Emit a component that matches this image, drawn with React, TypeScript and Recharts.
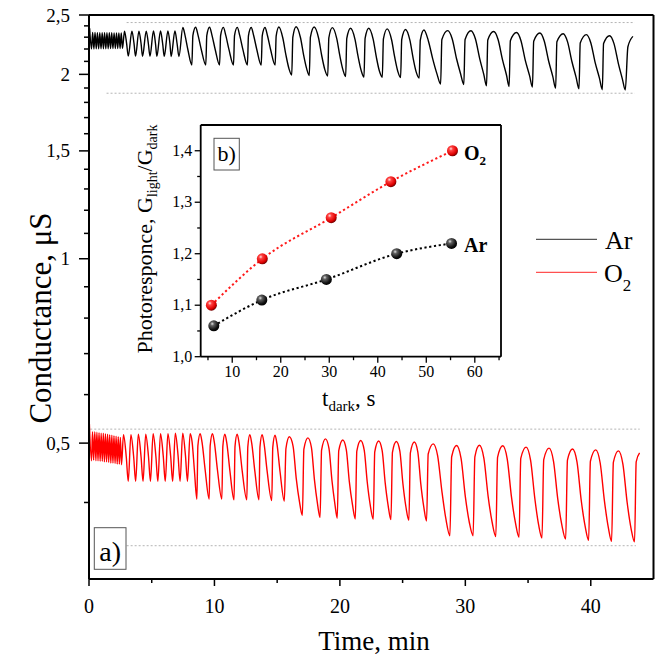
import React from 'react';
import { LineChart, Line, XAxis, YAxis, ReferenceLine } from 'recharts';

const FONT = '"Liberation Serif", "Times New Roman", Times, serif';

// ---------- main panel (a) : conductance vs time (min), log y ----------
const arPoints: [number, number][] = [
  [0.05, 2.378], [0.2, 2.2], [0.29, 2.341], [0.39, 2.2], [0.48, 2.341], [0.58, 2.201], [0.67, 2.34], [0.77, 2.201],
  [0.86, 2.34], [0.96, 2.201], [1.05, 2.34], [1.15, 2.202], [1.24, 2.339], [1.34, 2.202], [1.43, 2.339], [1.53, 2.202],
  [1.62, 2.338], [1.72, 2.203], [1.81, 2.338], [1.91, 2.203], [2.0, 2.337], [2.1, 2.203], [2.19, 2.337], [2.29, 2.204],
  [2.38, 2.336], [2.48, 2.204], [2.57, 2.336], [2.67, 2.205],
  [2.83, 2.352], [3.0, 2.245], [3.13, 2.142], [3.42, 2.352], [3.59, 2.245], [3.71, 2.142], [3.98, 2.353], [4.15, 2.246],
  [4.27, 2.141], [4.56, 2.353], [4.73, 2.246], [4.86, 2.141], [5.14, 2.354], [5.3, 2.246], [5.41, 2.14], [5.7, 2.354],
  [5.87, 2.246], [6.0, 2.14], [6.29, 2.355], [6.45, 2.246], [6.55, 2.139], [6.85, 2.355], [7.02, 2.246], [7.17, 2.139],
  [7.48, 2.385], [7.66, 2.314], [7.88, 2.196], [8.2, 2.072], [8.28, 2.314], [8.5, 2.388], [8.7, 2.314], [8.95, 2.196],
  [9.31, 2.072], [9.39, 2.314], [9.61, 2.388], [9.81, 2.314], [10.06, 2.196], [10.41, 2.072], [10.49, 2.313], [10.71, 2.386],
  [10.91, 2.313], [11.16, 2.195], [11.52, 2.072], [11.6, 2.313], [11.82, 2.386], [12.02, 2.313], [12.27, 2.195], [12.63, 2.072],
  [12.71, 2.312], [12.93, 2.385], [13.13, 2.312], [13.38, 2.194], [13.73, 2.071], [13.81, 2.312], [14.03, 2.385], [14.23, 2.312],
  [14.48, 2.194], [14.84, 2.071],
  [14.92, 2.31], [15.14, 2.39], [15.45, 2.293], [15.7, 2.15], [15.95, 2.04], [16.16, 1.995],
  [16.25, 2.3], [16.51, 2.392], [16.86, 2.295], [17.11, 2.15], [17.36, 2.04], [17.56, 1.991],
  [17.65, 2.3], [17.95, 2.39], [18.3, 2.293], [18.55, 2.147], [18.8, 2.036], [19.03, 1.988],
  [19.12, 2.295], [19.4, 2.384], [19.75, 2.288], [20.0, 2.143], [20.25, 2.032], [20.46, 1.984],
  [20.55, 2.29], [20.85, 2.379], [21.2, 2.284], [21.45, 2.139], [21.7, 2.028], [21.92, 1.98],
  [22.01, 2.29], [22.3, 2.379], [22.65, 2.283], [22.9, 2.137], [23.15, 2.025], [23.38, 1.978],
  [23.47, 2.285], [23.77, 2.373], [24.12, 2.278], [24.37, 2.133], [24.62, 2.022], [24.84, 1.976],
  [24.93, 2.28], [25.23, 2.368], [25.58, 2.274], [25.83, 2.13], [26.08, 2.019], [26.32, 1.972],
  [26.41, 2.275], [26.7, 2.363], [27.05, 2.27], [27.4, 2.12], [27.75, 2.0], [28.03, 1.928],
  [28.13, 2.28], [28.6, 2.357], [28.95, 2.287], [29.3, 2.121], [29.62, 2.005], [29.88, 1.925],
  [29.98, 2.28], [30.45, 2.356], [30.8, 2.286], [31.15, 2.12], [31.47, 2.0], [31.69, 1.915],
  [31.79, 2.275], [32.26, 2.349], [32.61, 2.28], [32.96, 2.114], [33.28, 1.995], [33.49, 1.911],
  [33.59, 2.27], [34.08, 2.341], [34.43, 2.272], [34.78, 2.108], [35.12, 1.99], [35.35, 1.906],
  [35.45, 2.265], [35.94, 2.336], [36.29, 2.267], [36.64, 2.103], [36.97, 1.985], [37.2, 1.899],
  [37.3, 2.26], [37.8, 2.33], [38.15, 2.26], [38.5, 2.097], [38.83, 1.978], [39.06, 1.894],
  [39.16, 2.25], [39.65, 2.322], [40.0, 2.253], [40.35, 2.09], [40.69, 1.972], [40.92, 1.888],
  [41.02, 2.245], [41.5, 2.313], [41.85, 2.245], [42.2, 2.083], [42.52, 1.965], [42.75, 1.886],
  [42.96, 2.219], [43.36, 2.307],
];

const o2Points: [number, number][] = [
  [0.03, 0.537], [0.2, 0.468], [0.28, 0.522], [0.37, 0.469], [0.46, 0.522], [0.55, 0.468], [0.63, 0.521], [0.72, 0.468],
  [0.8, 0.52], [0.89, 0.467], [0.97, 0.519], [1.06, 0.467], [1.14, 0.519], [1.23, 0.466], [1.31, 0.518], [1.4, 0.466],
  [1.48, 0.517], [1.57, 0.465], [1.65, 0.516], [1.74, 0.464], [1.82, 0.515], [1.91, 0.464], [1.99, 0.514], [2.08, 0.463],
  [2.16, 0.513], [2.25, 0.462], [2.33, 0.512], [2.42, 0.462], [2.5, 0.511], [2.59, 0.461],
  [2.75, 0.516], [2.97, 0.475], [3.13, 0.433], [3.34, 0.516], [3.56, 0.475], [3.72, 0.433], [3.93, 0.517], [4.15, 0.475],
  [4.31, 0.433], [4.52, 0.517], [4.74, 0.476], [4.9, 0.433], [5.11, 0.518], [5.33, 0.476], [5.49, 0.433], [5.7, 0.518],
  [5.92, 0.476], [6.08, 0.433], [6.29, 0.518], [6.51, 0.476], [6.67, 0.433], [6.88, 0.519], [7.1, 0.477], [7.26, 0.433],
  [7.47, 0.519], [7.69, 0.477], [7.85, 0.433],
  [8.06, 0.518], [8.22, 0.502], [8.4, 0.452], [8.6, 0.405],
  [8.68, 0.495], [8.86, 0.518], [9.01, 0.502], [9.26, 0.452], [9.58, 0.405],
  [9.66, 0.495], [9.84, 0.518], [9.99, 0.502], [10.24, 0.452], [10.59, 0.405],
  [10.67, 0.494], [10.83, 0.517], [10.98, 0.501], [11.23, 0.451], [11.56, 0.404],
  [11.64, 0.494], [11.81, 0.517], [11.96, 0.501], [12.21, 0.451], [12.58, 0.404],
  [12.66, 0.493], [12.82, 0.516], [12.97, 0.5], [13.22, 0.45], [13.55, 0.404],
  [13.63, 0.493], [13.8, 0.516], [13.95, 0.5], [14.2, 0.45], [14.57, 0.403],
  [14.65, 0.492], [14.83, 0.515], [14.98, 0.499], [15.23, 0.449], [15.57, 0.402],
  [15.7, 0.49], [15.97, 0.512], [16.27, 0.494], [16.52, 0.438], [16.78, 0.401], [17.01, 0.381],
  [17.13, 0.489], [17.45, 0.51], [17.73, 0.492], [17.97, 0.436], [18.2, 0.4], [18.42, 0.378],
  [18.54, 0.487], [18.85, 0.508], [19.13, 0.49], [19.37, 0.434], [19.6, 0.398], [19.79, 0.377],
  [19.91, 0.486], [20.23, 0.506], [20.51, 0.488], [20.75, 0.433], [21.0, 0.397], [21.23, 0.376],
  [21.35, 0.485], [21.66, 0.505], [21.94, 0.487], [22.18, 0.432], [22.42, 0.396], [22.66, 0.3755],
  [22.78, 0.484], [23.09, 0.504], [23.37, 0.486], [23.61, 0.431], [23.85, 0.395], [24.07, 0.375],
  [24.19, 0.483], [24.5, 0.503], [24.78, 0.485], [25.02, 0.43], [25.26, 0.394], [25.5, 0.374],
  [25.62, 0.482], [25.93, 0.502], [26.21, 0.484], [26.45, 0.429], [26.69, 0.393], [26.91, 0.373],
  [27.04, 0.48], [27.44, 0.4986], [27.79, 0.477], [28.14, 0.416], [28.44, 0.377], [28.77, 0.353],
  [28.91, 0.475], [29.3, 0.4955], [29.66, 0.472], [30.0, 0.409], [30.32, 0.371], [30.62, 0.353],
  [30.76, 0.475], [31.12, 0.496], [31.48, 0.472], [31.82, 0.409], [32.14, 0.371], [32.43, 0.352],
  [32.57, 0.474], [32.98, 0.495], [33.34, 0.471], [33.68, 0.408], [34.0, 0.37], [34.28, 0.351],
  [34.42, 0.472], [34.84, 0.4925], [35.2, 0.469], [35.54, 0.406], [35.84, 0.368], [36.11, 0.35],
  [36.25, 0.47], [36.67, 0.4906], [37.03, 0.467], [37.37, 0.405], [37.7, 0.367], [38.0, 0.3485],
  [38.14, 0.469], [38.54, 0.489], [38.9, 0.466], [39.24, 0.403], [39.56, 0.365], [39.83, 0.347],
  [39.97, 0.467], [40.39, 0.4875], [40.75, 0.464], [41.09, 0.402], [41.4, 0.364], [41.66, 0.3457],
  [41.8, 0.465], [42.2, 0.4857], [42.56, 0.462], [42.9, 0.4], [43.22, 0.362], [43.49, 0.345],
  [43.62, 0.466], [43.89, 0.482],
];

// gray dotted guide lines: level, start time, end time
const guideLevels = [2.43, 1.863, 0.527, 0.34];
const guideStarts = [3.0, 1.4, 0.1, 3.0];
const guideEnds = [43.5, 43.5, 43.9, 43.6];

const mainXTicks = [0, 5, 10, 15, 20, 25, 30, 35, 40];
const mainXMajor = [0, 10, 20, 30, 40];
const mainYTicks = [0.4, 0.5, 0.6, 0.7, 0.8, 0.9, 1, 1.1, 1.2, 1.3, 1.4, 1.5, 1.6, 1.7, 1.8, 1.9, 2, 2.1, 2.2, 2.3, 2.4, 2.5];
const mainYMajor = [0.5, 1, 1.5, 2, 2.5];

// ---------- inset (b) : photoresponse vs dark time ----------
const insetO2Dark = [5.7, 16.2, 30.4, 42.7, 55.4];
const insetO2Resp = [1.1, 1.19, 1.27, 1.34, 1.4];
const insetArDark = [6.2, 16.1, 29.4, 43.9, 55.2];
const insetArResp = [1.06, 1.11, 1.15, 1.2, 1.22];
const insetXTicks = [5, 10, 15, 20, 25, 30, 35, 40, 45, 50, 55, 60, 65];
const insetXMajor = [10, 20, 30, 40, 50, 60];
const insetYTicks = [1.0, 1.05, 1.1, 1.15, 1.2, 1.25, 1.3, 1.35, 1.4];
const insetYMajor = [1.0, 1.1, 1.2, 1.3, 1.4];

const arData = arPoints.map(([t, v]) => ({ t, v }));
const o2Data = o2Points.map(([t, v]) => ({ t, v }));
const insetO2 = insetO2Dark.map((x, i) => ({ x, y: insetO2Resp[i] }));
const insetAr = insetArDark.map((x, i) => ({ x, y: insetArResp[i] }));

const isIn = (arr: number[], v: number) => arr.some((m) => Math.abs(m - v) < 1e-6);
const comma = (v: number) => String(v).replace('.', ',');

const MainYTick = (props: any) => {
  const { x, y, payload } = props;
  const v = payload.value;
  const major = isIn(mainYMajor, v);
  const len = major ? 10 : 5;
  return (
    <g>
      <line x1={x - len} x2={x} y1={y} y2={y} stroke="#000" strokeWidth={1.5} />
      {major && (
        <text x={x - 19} y={y + 6.5} textAnchor="end" fontSize={19} fontFamily={FONT} fill="#000">
          {comma(v)}
        </text>
      )}
    </g>
  );
};

const MainXTick = (props: any) => {
  const { x, y, payload } = props;
  const v = payload.value;
  const major = isIn(mainXMajor, v);
  const len = major ? 7 : 4;
  return (
    <g>
      <line x1={x} x2={x} y1={y} y2={y + len} stroke="#000" strokeWidth={1.5} />
      {major && (
        <text x={x} y={y + 34} textAnchor="middle" fontSize={20} fontFamily={FONT} fill="#000">
          {v}
        </text>
      )}
    </g>
  );
};

const InsetYTick = (props: any) => {
  const { x, y, payload } = props;
  const v = payload.value;
  const major = isIn(insetYMajor, v);
  const len = major ? 6 : 3.5;
  return (
    <g>
      <line x1={x - len} x2={x} y1={y} y2={y} stroke="#000" strokeWidth={1.3} />
      {major && (
        <text x={x - 8.5} y={y + 5} textAnchor="end" fontSize={16} fontFamily={FONT} fill="#000">
          {v.toFixed(1).replace('.', ',')}
        </text>
      )}
    </g>
  );
};

const InsetXTick = (props: any) => {
  const { x, y, payload } = props;
  const v = payload.value;
  const major = isIn(insetXMajor, v);
  const len = major ? 6 : 3.5;
  return (
    <g>
      <line x1={x} x2={x} y1={y} y2={y + len} stroke="#000" strokeWidth={1.3} />
      {major && (
        <text x={x} y={y + 20} textAnchor="middle" fontSize={16} fontFamily={FONT} fill="#000">
          {v}
        </text>
      )}
    </g>
  );
};

const makeBall = (gradId: string) => (props: any) => {
  const { cx, cy, index } = props;
  if (cx == null || cy == null) return <g key={`b-${gradId}-${index}`} />;
  return <circle key={`b-${gradId}-${index}`} cx={cx} cy={cy} r={5.5} fill={`url(#${gradId})`} />;
};

export default function App() {
  return (
    <div style={{ position: 'absolute', left: 0, top: 0, width: 664, height: 661, background: '#fff', fontFamily: FONT }}>
      <div style={{ position: 'absolute', left: 0, top: 0 }}>
        <LineChart width={664} height={661} margin={{ top: 15, right: 10.5, bottom: 0, left: 0 }}>
          <XAxis
            dataKey="t"
            type="number"
            domain={[0, 45]}
            allowDataOverflow
            ticks={mainXTicks}
            interval={0}
            height={82}
            tickSize={0}
            tickMargin={0}
            tickLine={false}
            axisLine={{ stroke: '#000', strokeWidth: 2 }}
            tick={<MainXTick />}
          />
          <YAxis
            dataKey="v"
            type="number"
            scale="log"
            domain={[0.3, 2.5]}
            allowDataOverflow
            ticks={mainYTicks}
            interval={0}
            width={89}
            tickSize={0}
            tickMargin={0}
            tickLine={false}
            axisLine={{ stroke: '#000', strokeWidth: 2 }}
            tick={<MainYTick />}
          />
          <ReferenceLine y={2.5} stroke="#000" strokeWidth={2} />
          <ReferenceLine x={45} stroke="#000" strokeWidth={2} />
          {guideLevels.map((lv, i) => (
            <ReferenceLine
              key={`g${i}`}
              segment={[{ x: guideStarts[i], y: lv }, { x: guideEnds[i], y: lv }]}
              stroke="#b4b4b4"
              strokeWidth={1}
              strokeDasharray="2 2"
            />
          ))}
          <Line data={arData} dataKey="v" type="monotone" stroke="#000" strokeWidth={1.4} dot={false} isAnimationActive={false} />
          <Line data={o2Data} dataKey="v" type="monotone" stroke="#ff0000" strokeWidth={1.4} dot={false} isAnimationActive={false} />
        </LineChart>
      </div>

      <div style={{ position: 'absolute', left: 120, top: 110 }}>
        <LineChart width={400} height={310} margin={{ top: 15, right: 19, bottom: 0, left: 0 }}>
          <defs>
            <radialGradient id="ballRed" cx="36%" cy="32%" r="70%">
              <stop offset="0%" stopColor="#ffe0e0" />
              <stop offset="25%" stopColor="#ff4040" />
              <stop offset="75%" stopColor="#dd0000" />
              <stop offset="100%" stopColor="#700000" />
            </radialGradient>
            <radialGradient id="ballBlack" cx="36%" cy="32%" r="70%">
              <stop offset="0%" stopColor="#e0e0e0" />
              <stop offset="25%" stopColor="#606060" />
              <stop offset="75%" stopColor="#111" />
              <stop offset="100%" stopColor="#000" />
            </radialGradient>
          </defs>
          <XAxis
            dataKey="x"
            type="number"
            domain={[3.5, 65.4]}
            allowDataOverflow
            ticks={insetXTicks}
            interval={0}
            height={63.3}
            tickSize={0}
            tickMargin={0}
            tickLine={false}
            axisLine={{ stroke: '#000', strokeWidth: 1.8 }}
            tick={<InsetXTick />}
          />
          <YAxis
            dataKey="y"
            type="number"
            domain={[1.0, 1.45]}
            allowDataOverflow
            ticks={insetYTicks}
            interval={0}
            width={80.7}
            tickSize={0}
            tickMargin={0}
            tickLine={false}
            axisLine={{ stroke: '#000', strokeWidth: 1.8 }}
            tick={<InsetYTick />}
          />
          <ReferenceLine y={1.45} stroke="#000" strokeWidth={1.8} />
          <ReferenceLine x={65.4} stroke="#000" strokeWidth={1.8} />
          <Line
            data={insetO2}
            dataKey="y"
            type="monotone"
            stroke="#ff1a1a"
            strokeWidth={2}
            strokeDasharray="2.2 2.6"
            dot={makeBall('ballRed')}
            isAnimationActive={false}
          />
          <Line
            data={insetAr}
            dataKey="y"
            type="monotone"
            stroke="#000"
            strokeWidth={2}
            strokeDasharray="2.2 2.6"
            dot={makeBall('ballBlack')}
            isAnimationActive={false}
          />
        </LineChart>
      </div>

      <svg width={664} height={661} style={{ position: 'absolute', left: 0, top: 0, pointerEvents: 'none' }} fontFamily={FONT}>
        {/* main axis titles */}
        <text x={374} y={650} textAnchor="middle" fontSize={27} fill="#000">Time, min</text>
        <text transform="translate(51,318) rotate(-90)" textAnchor="middle" fontSize={31} fill="#000">Conductance, μS</text>

        {/* legend */}
        <line x1={536} x2={597} y1={239.3} y2={239.3} stroke="#555" strokeWidth={1.3} />
        <text x={605} y={248.5} fontSize={26} fill="#000">Ar</text>
        <line x1={536} x2={597} y1={272.3} y2={272.3} stroke="#ff5050" strokeWidth={1.3} />
        <text x={604} y={281.7} fontSize={26} fill="#000">
          O<tspan fontSize={17} dy={9}>2</tspan>
        </text>

        {/* panel a) label */}
        <rect x={94.3} y={527.7} width={31.7} height={41.6} fill="#fff" stroke="#555" strokeWidth={1} />
        <text x={110.2} y={560.5} textAnchor="middle" fontSize={28} fill="#000">a)</text>

        {/* inset labels */}
        <rect x={214} y={138.3} width={25.3} height={31.7} fill="#fff" stroke="#555" strokeWidth={1} />
        <text x={226.7} y={161} textAnchor="middle" fontSize={22} fill="#000">b)</text>
        <text x={464} y={160} fontSize={20} fontWeight="bold" fill="#000">
          O<tspan fontSize={13} dy={5}>2</tspan>
        </text>
        <text x={464} y={252} fontSize={20} fontWeight="bold" fill="#000">Ar</text>
        <text transform="translate(152,239) rotate(-90)" textAnchor="middle" fontSize={22} fill="#000">
          Photoresponce, G<tspan fontSize={14} dy={5}>light</tspan><tspan dy={-5}>/G</tspan><tspan fontSize={14} dy={5}>dark</tspan>
        </text>
        <text x={322} y={406} fontSize={23} fill="#000">
          t<tspan fontSize={15} dy={5}>dark</tspan><tspan dy={-5}>, s</tspan>
        </text>
      </svg>
    </div>
  );
}
